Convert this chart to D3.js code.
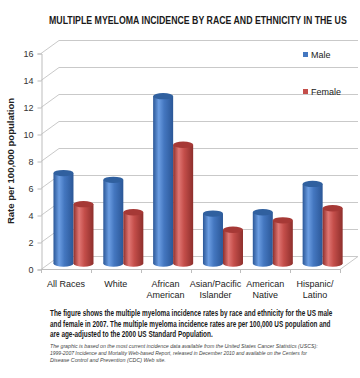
<!DOCTYPE html>
<meta charset="utf-8">
<script src="https://d3js.org/d3.v7.min.js"></script>
<style>
  body { margin: 0; background: #fff; }
  svg { display: block; }
</style>
<div id="chart"></div>
<script>

// data
const categories = ["All Races", "White", "African American", "Asian/Pacific Islander", "American Native", "Hispanic/Latino"];
const labelLines = [["All Races"], ["White"], ["African", "American"], ["Asian/Pacific", "Islander"], ["American", "Native"], ["Hispanic/", "Latino"]];
const seriesNames = ["Male", "Female"];
const maleRates = [6.7, 6.2, 12.4, 3.7, 3.8, 5.9];
const femaleRates = [4.4, 3.8, 8.8, 2.5, 3.2, 4.1];
const yTicks = [0, 2, 4, 6, 8, 10, 12, 14, 16];

const title = "MULTIPLE MYELOMA INCIDENCE BY RACE AND ETHNICITY IN THE US";
const captionLines = [
  "The figure shows the multiple myeloma incidence rates by race and ethnicity for the US male",
  "and female in 2007. The multiple myeloma incidence rates are per 100,000 US population and",
  "are age-adjusted to the 2000 US Standard Population."
];
const sourceLines = [
  "The graphic is based on the most current incidence data available from the United States Cancer Statistics (USCS):",
  "1999-2007 Incidence and Mortality Web-based Report, released in December 2010 and available on the Centers for",
  "Disease Control and Prevention (CDC) Web site."
];

const W = 360, H = 378;
const depthX = 18, depthY = -13;   // back wall offset
const barDepth = 0.42;              // where the cylinders sit between front and back

const svg = d3.select("#chart").append("svg")
  .attr("width", W).attr("height", H);

const x = d3.scaleBand().domain(categories).range([41, 340]);
const y = d3.scaleLinear().domain([0, 16]).range([269, 53]);
const xs = d3.scaleBand().domain(seriesNames).range([0, x.bandwidth()]).paddingOuter(0.245);

const colors = {
  Male:   { dark: "#2b5797", light: "#6b9de2", mid: "#4477c0", top: "#30609f" },
  Female: { dark: "#8e2f2c", light: "#e07673", mid: "#c44e4a", top: "#a63936" }
};

// squeeze a text horizontally to a given width (condensed look)
function fitText(px, py, str, width, style) {
  const g = svg.append("g");
  const t = g.append("text").text(str);
  Object.keys(style).forEach(function(k) { t.style(k, style[k]); });
  const natural = t.node().getComputedTextLength();
  const sx = Math.min(1, width / natural);
  g.attr("transform", "translate(" + px + "," + py + ") scale(" + sx + ",1)");
  return t;
}

// gradients for the cylinders
const defs = svg.append("defs");
seriesNames.forEach(function(s) {
  const g = defs.append("linearGradient").attr("id", "grad-" + s)
    .attr("x1", "0%").attr("x2", "100%").attr("y1", "0%").attr("y2", "0%");
  g.append("stop").attr("offset", "0%").attr("stop-color", colors[s].dark);
  g.append("stop").attr("offset", "28%").attr("stop-color", colors[s].light);
  g.append("stop").attr("offset", "55%").attr("stop-color", colors[s].mid);
  g.append("stop").attr("offset", "100%").attr("stop-color", colors[s].dark);
});

// title
fitText(49, 24, title, 298, {
  "font-family": "'Liberation Sans', Arial, sans-serif",
  "font-weight": "bold", "font-size": "11.5px", "fill": "#1a1a1a"
});

// back wall gridlines + side wall diagonals
const grid = svg.append("g").attr("stroke", "#c9c9c9").attr("stroke-width", 1).attr("fill", "none");
yTicks.forEach(function(t) {
  const yy = Math.round(y(t)) + 0.5;
  grid.append("line")
    .attr("x1", 41 + depthX).attr("x2", 340 + depthX)
    .attr("y1", yy + depthY).attr("y2", yy + depthY);
  grid.append("line")
    .attr("x1", 41).attr("x2", 41 + depthX)
    .attr("y1", yy).attr("y2", yy + depthY);
});
// floor right edge
grid.append("line")
  .attr("x1", 340).attr("y1", Math.round(y(0)) + 0.5)
  .attr("x2", 340 + depthX).attr("y2", Math.round(y(0)) + 0.5 + depthY);

// y axis
const yAxis = svg.append("g")
  .attr("transform", "translate(41.5,0.5)")
  .call(d3.axisLeft(y).tickValues(yTicks).tickSize(4).tickPadding(4));
yAxis.select(".domain").attr("stroke", "#bdbdbd");
yAxis.selectAll(".tick line").attr("stroke", "#bdbdbd");
yAxis.selectAll(".tick text")
  .style("font-family", "'Liberation Sans', Arial, sans-serif")
  .style("font-size", "9px").style("fill", "#333");

// floor front edge and category ticks
svg.append("line")
  .attr("x1", 41).attr("x2", 340)
  .attr("y1", Math.round(y(0)) + 0.5).attr("y2", Math.round(y(0)) + 0.5)
  .attr("stroke", "#bdbdbd");
svg.selectAll(".cattick")
  .data(categories.concat(["end"]))
  .join("line")
    .attr("class", "cattick")
    .attr("x1", function(d) { return Math.round(d === "end" ? 340 : x(d)) + 0.5; })
    .attr("x2", function(d) { return Math.round(d === "end" ? 340 : x(d)) + 0.5; })
    .attr("y1", y(0)).attr("y2", y(0) + 4)
    .attr("stroke", "#bdbdbd");

// y axis title
svg.append("text")
  .attr("transform", "translate(14," + 161 + ") rotate(-90)")
  .attr("text-anchor", "middle")
  .style("font-family", "'Liberation Sans', Arial, sans-serif")
  .style("font-weight", "bold").style("font-size", "9.5px").style("fill", "#222")
  .text("Rate per 100,000 population");

// bars as cylinders
const rows = [];
categories.forEach(function(c, i) {
  rows.push({ cat: c, series: "Male", value: maleRates[i] });
  rows.push({ cat: c, series: "Female", value: femaleRates[i] });
});
const shiftX = depthX * barDepth, shiftY = depthY * barDepth;
const ry = 3.2;

const bars = svg.selectAll(".bar")
  .data(rows)
  .join("g")
    .attr("class", "bar")
    .attr("transform", function(d) {
      return "translate(" + (x(d.cat) + xs(d.series) + shiftX) + "," + shiftY + ")";
    });

bars.append("ellipse")
  .attr("cx", xs.bandwidth() / 2).attr("cy", y(0))
  .attr("rx", xs.bandwidth() / 2).attr("ry", ry)
  .attr("fill", function(d) { return "url(#grad-" + d.series + ")"; });
bars.append("rect")
  .attr("x", 0).attr("width", xs.bandwidth())
  .attr("y", function(d) { return y(d.value); })
  .attr("height", function(d) { return y(0) - y(d.value); })
  .attr("fill", function(d) { return "url(#grad-" + d.series + ")"; });
bars.append("ellipse")
  .attr("cx", xs.bandwidth() / 2).attr("cy", function(d) { return y(d.value); })
  .attr("rx", xs.bandwidth() / 2).attr("ry", ry)
  .attr("fill", function(d) { return colors[d.series].top; });

// category labels
const catLabels = svg.selectAll(".catlabel")
  .data(categories)
  .join("text")
    .attr("class", "catlabel")
    .attr("text-anchor", "middle")
    .style("font-family", "'Liberation Sans', Arial, sans-serif")
    .style("font-size", "9px").style("fill", "#222");
catLabels.each(function(d, i) {
  const t = d3.select(this);
  labelLines[i].forEach(function(line, j) {
    t.append("tspan")
      .attr("x", x(d) + x.bandwidth() / 2)
      .attr("y", 287 + j * 11)
      .text(line);
  });
});

// legend
const legend = svg.selectAll(".legend")
  .data(seriesNames)
  .join("g")
    .attr("class", "legend")
    .attr("transform", function(d, i) { return "translate(303," + (52 + i * 37) + ")"; });
legend.append("rect")
  .attr("width", 5).attr("height", 5)
  .attr("fill", function(d) { return colors[d].mid; });
legend.append("text")
  .attr("x", 8).attr("y", 5.5)
  .style("font-family", "'Liberation Sans', Arial, sans-serif")
  .style("font-size", "9px").style("fill", "#222")
  .text(function(d) { return d; });

// caption
const capWidths = [283, 281, 163];
captionLines.forEach(function(line, i) {
  fitText(50, 316 + i * 10.5, line, capWidths[i], {
    "font-family": "'Liberation Sans', Arial, sans-serif",
    "font-weight": "bold", "font-size": "9px", "fill": "#1a1a1a"
  });
});

const srcWidths = [268, 258, 116];
sourceLines.forEach(function(line, i) {
  fitText(50, 348 + i * 6.8, line, srcWidths[i], {
    "font-family": "'Liberation Sans', Arial, sans-serif",
    "font-style": "italic", "font-size": "6px", "fill": "#444"
  });
});

</script>
